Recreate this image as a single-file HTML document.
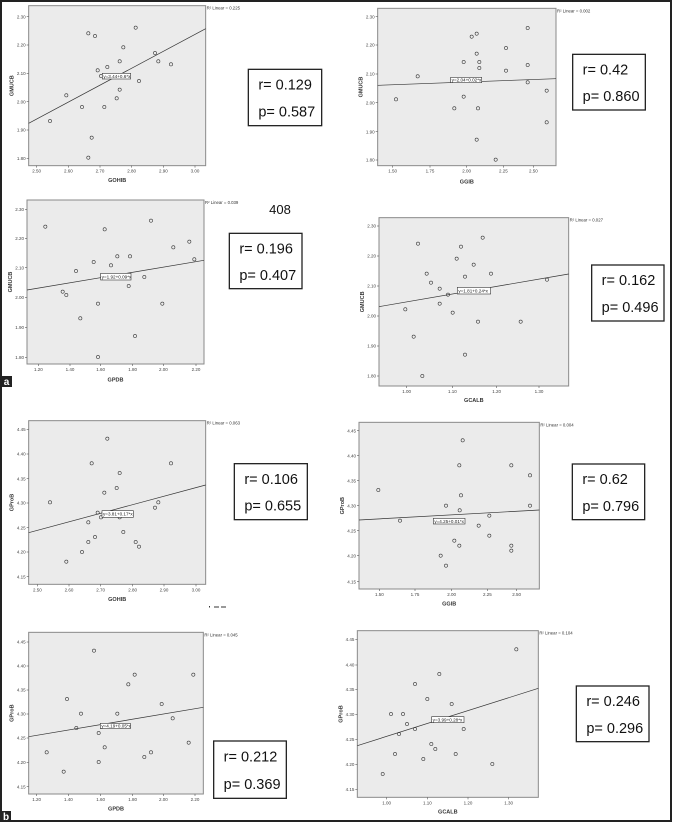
<!DOCTYPE html>
<html><head><meta charset="utf-8">
<style>
html,body{margin:0;padding:0;background:#fff;}
svg{display:block;font-family:"Liberation Sans",sans-serif;}
</style></head>
<body>
<svg id="s" width="673" height="823" viewBox="0 0 673 823" xmlns="http://www.w3.org/2000/svg">
<rect x="1" y="1" width="670" height="820" fill="#fff" stroke="#222" stroke-width="2"/>
</svg>
<script>
var S=document.getElementById('s');var NS='http://www.w3.org/2000/svg';
function el(t,a,txt){var e=document.createElementNS(NS,t);for(var k in a)e.setAttribute(k,a[k]);if(txt!==undefined)e.textContent=txt;S.appendChild(e);return e;}
var P=[
{o:[0,0],box:[86,17,617,497],yt:[[50,'2.30'],[135,'2.20'],[220,'2.10'],[305,'2.00'],[390,'1.90'],[475,'1.80']],xt:[[110,'2.50'],[205,'2.60'],[300,'2.70'],[395,'2.80'],[490,'2.90'],[585,'3.00']],
pts:[[150,363],[199,286],[246,321],[265,100],[285,108],[275,413],[265,473],[293,211],[303,228],[313,321],[322,201],[350,295],[359,269],[359,184],[370,142],[407,83],[417,243],[465,159],[475,184],[513,193]],
ln:[86,370,617,86],eq:[307,220,392,237,'y=3.44+0.6*x'],r2:'0.225',rb:[745,208,965,377,'0.129','0.587'],xl:['GOHIB',540],yl:'GMUCB'},
{o:[340,0],box:[113,25,648,497],yt:[[50,'2.30'],[135,'2.20'],[222,'2.10'],[308,'2.00'],[395,'1.90'],[480,'1.80']],xt:[[158,'1.50'],[270,'1.75'],[380,'2.00'],[490,'2.25'],[580,'2.50']],
pts:[[168,298],[233,229],[343,325],[371,186],[371,290],[395,110],[410,101],[410,161],[410,419],[418,186],[418,204],[414,325],[467,479],[498,144],[498,212],[563,84],[563,195],[563,247],[620,272],[620,367]],
ln:[113,256,648,236],eq:[332,232,425,248,'y=2.04+0.02*x'],r2:'0.002',rb:[698,163,916,330,'0.42','0.860'],xl:['GGIB',545],yl:'GMUCB'},
{o:[0,190],box:[81,30,612,522],yt:[[58,'2.30'],[145,'2.20'],[233,'2.10'],[322,'2.00'],[412,'1.90'],[502,'1.80']],xt:[[115,'1.20'],[210,'1.40'],[302,'1.60'],[398,'1.80'],[490,'2.00'],[588,'2.20']],
pts:[[136,110],[188,305],[199,315],[228,243],[241,385],[281,216],[294,341],[294,501],[314,118],[333,226],[352,199],[390,199],[386,288],[405,438],[433,261],[453,92],[487,341],[520,172],[568,155],[583,208]],
ln:[81,300,612,211],eq:[302,250,393,270,'y=1.92+0.09*x'],r2:'0.039',rb:[688,130,906,296,'0.196','0.407'],xl:['GPDB',568],yl:'GMUCB'},
{o:[340,190],box:[117,83,686,588],yt:[[108,'2.30'],[198,'2.20'],[288,'2.10'],[378,'2.00'],[468,'1.90'],[558,'1.80']],xt:[[200,'1.00'],[337,'1.10'],[470,'1.20'],[597,'1.30']],
pts:[[196,358],[221,440],[234,161],[247,558],[260,251],[273,278],[299,296],[299,341],[324,314],[338,368],[350,206],[363,170],[375,260],[375,494],[401,224],[414,395],[428,143],[453,251],[542,395],[621,269]],
ln:[117,350,686,252],eq:[352,292,452,312,'y=1.81+0.24*x'],r2:'0.027',rb:[755,225,972,393,'0.162','0.496'],xl:['GCALB',630],yl:'GMUCB'},
{o:[0,380],box:[86,122,617,613],yt:[[148,'4.45'],[222,'4.40'],[296,'4.35'],[369,'4.30'],[443,'4.25'],[516,'4.20'],[590,'4.15']],xt:[[112,'2.50'],[207,'2.60'],[302,'2.70'],[398,'2.80'],[492,'2.90'],[588,'3.00']],
pts:[[150,367],[199,545],[246,516],[265,427],[265,486],[275,250],[285,471],[293,398],[303,412],[313,338],[322,176],[350,324],[359,279],[359,412],[370,456],[407,486],[417,500],[465,383],[475,367],[513,250]],
ln:[86,458,617,315],eq:[306,392,400,412,'y=3.81+0.17*x'],r2:'0.063',rb:[703,251,922,419,'0.106','0.655'],xl:['GOHIB',657],yl:'GProB'},
{o:[340,390],box:[57,97,598,597],yt:[[122,'4.45'],[197,'4.40'],[272,'4.35'],[347,'4.30'],[422,'4.25'],[497,'4.20'],[575,'4.15']],xt:[[118,'1.50'],[225,'1.75'],[335,'2.00'],[442,'2.25'],[530,'2.50']],
pts:[[115,300],[180,392],[302,497],[318,527],[318,347],[343,452],[358,467],[358,226],[359,361],[363,316],[368,151],[416,407],[448,377],[448,437],[514,226],[514,467],[514,482],[570,256],[570,347]],
ln:[57,390,598,360],eq:[280,385,375,402,'y=4.25+0.01*x'],r2:'0.004',rb:[697,222,914,389,'0.62','0.796'],xl:['GGIB',640],yl:'GProB'},
{o:[0,600],box:[86,97,610,582],yt:[[126,'4.45'],[198,'4.40'],[270,'4.35'],[342,'4.30'],[414,'4.25'],[487,'4.20'],[560,'4.15']],xt:[[110,'1.20'],[205,'1.40'],[302,'1.60'],[398,'1.80'],[490,'2.00'],[585,'2.20']],
pts:[[140,457],[191,515],[201,297],[229,384],[243,341],[282,152],[296,399],[296,486],[314,442],[352,341],[385,253],[404,224],[433,471],[453,457],[485,312],[518,355],[566,428],[580,224]],
ln:[86,410,610,322],eq:[301,370,391,386,'y=4.19+0.05*x'],r2:'0.045',rb:[641,423,859,595,'0.212','0.369'],xl:['GPDB',625],yl:'GProB'},
{o:[340,600],box:[52,92,595,592],yt:[[118,'4.45'],[195,'4.40'],[268,'4.35'],[343,'4.30'],[418,'4.25'],[493,'4.20'],[568,'4.15']],xt:[[140,'1.00'],[262,'1.10'],[384,'1.20'],[506,'1.30']],
pts:[[128,522],[153,342],[165,462],[177,402],[189,342],[201,372],[225,387],[225,252],[250,477],[262,297],[274,432],[286,447],[298,222],[335,312],[347,462],[371,387],[457,492],[529,148]],
ln:[52,437,595,265],eq:[275,350,372,368,'y=3.99+0.28*x'],r2:'0.104',rb:[709,258,927,425,'0.246','0.296'],xl:['GCALB',635],yl:'GProB'}
];
P.forEach(function(p){
 var ox=p.o[0],oy=p.o[1];function X(v){return ox+v/3;}function Y(v){return oy+v/3;}
 var b=p.box,x0=X(b[0]),y0=Y(b[1]),x1=X(b[2]),y1=Y(b[3]);
 el('rect',{x:x0,y:y0,width:x1-x0,height:y1-y0,fill:'#ebebeb',stroke:'#8a8a8a','stroke-width':1});
 p.yt.forEach(function(t){var y=Y(t[0]);el('line',{x1:x0-2,y1:y,x2:x0,y2:y,stroke:'#555','stroke-width':0.6});el('text',{x:x0-3,y:y+1.6,'font-size':4.5,'text-anchor':'end',fill:'#444'},t[1]);});
 p.xt.forEach(function(t){var x=X(t[0]);el('line',{x1:x,y1:y1,x2:x,y2:y1+2,stroke:'#555','stroke-width':0.6});el('text',{x:x,y:y1+7,'font-size':4.5,'text-anchor':'middle',fill:'#444'},t[1]);});
 var l=p.ln;el('line',{x1:X(l[0]),y1:Y(l[1]),x2:X(l[2]),y2:Y(l[3]),stroke:'#333','stroke-width':0.7});
 p.pts.forEach(function(q){el('circle',{cx:X(q[0]),cy:Y(q[1]),r:1.6,fill:'none',stroke:'#333','stroke-width':0.6});});
 var e=p.eq;el('rect',{x:X(e[0]),y:Y(e[1]),width:(e[2]-e[0])/3,height:(e[3]-e[1])/3,fill:'#fff',stroke:'#333','stroke-width':0.6});
 el('text',{x:X(e[0])+1,y:(Y(e[1])+Y(e[3]))/2+1.7,'font-size':4.6,fill:'#222'},e[4]);
 el('text',{x:x1+1,y:y0+4,'font-size':4.3,fill:'#333'},'R\u00b2 Linear = '+p.r2);
 var r=p.rb,rx=X(r[0]),ry=Y(r[1]),rw=(r[2]-r[0])/3,rh=(r[3]-r[1])/3;
 el('rect',{x:rx,y:ry,width:rw,height:rh,fill:'#fff',stroke:'#222','stroke-width':1.3});
 el('text',{x:rx+10,y:ry+rh*0.36,'font-size':14.5,fill:'#111'},'r= '+r[4]);
 el('text',{x:rx+10,y:ry+rh*0.84,'font-size':14.5,fill:'#111'},'p= '+r[5]);
 el('text',{x:(x0+x1)/2,y:Y(p.xl[1])+2,'font-size':5.5,'font-weight':'bold','text-anchor':'middle',fill:'#333'},p.xl[0]);
 var yx=x0-15,yy=(y0+y1)/2;el('text',{x:yx,y:yy,'font-size':5.5,'font-weight':'bold','text-anchor':'middle',fill:'#333',transform:'rotate(-90 '+yx+' '+yy+')'},p.yl);
});
el('text',{x:280,y:214,'font-size':13,fill:'#111','text-anchor':'middle'},'408');
el('rect',{x:1,y:376,width:11,height:11,fill:'#222'});
el('text',{x:6.5,y:385,'font-size':10,fill:'#fff','text-anchor':'middle','font-weight':'bold'},'a');
el('rect',{x:1,y:811,width:10,height:11,fill:'#222'});
el('text',{x:6,y:820,'font-size':10,fill:'#fff','text-anchor':'middle','font-weight':'bold'},'b');
el('line',{x1:214,y1:607,x2:219,y2:607,stroke:'#333','stroke-width':1});
el('line',{x1:221,y1:607,x2:226,y2:607,stroke:'#333','stroke-width':1});
el('rect',{x:209,y:606,width:1,height:1.5,fill:'#333'});
</script>
</body></html>
